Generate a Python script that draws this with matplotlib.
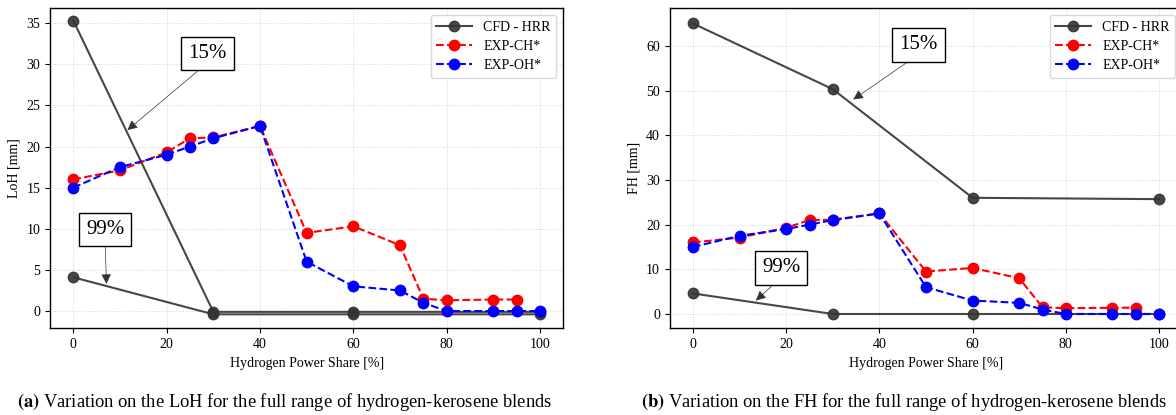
import matplotlib.pyplot as plt

plt.rcParams['font.family'] = ['Liberation Serif', 'DejaVu Serif']
plt.rcParams['mathtext.fontset'] = 'stix'

# CFD - HRR (two iso-levels of heat release rate)
cfd_x = [0, 30, 60, 100]
loh_15 = [35.3, -0.1, -0.1, -0.1]
loh_99 = [4.1, -0.4, -0.4, -0.4]
fh_15 = [65.0, 50.3, 26.0, 25.7]
fh_99 = [4.6, 0.0, 0.0, 0.0]

# experimental chemiluminescence (same data for LoH and FH)
ch_x = [0, 10, 20, 25, 30, 40, 50, 60, 70, 75, 80, 90, 95]
ch_y = [16.0, 17.1, 19.3, 21.0, 21.1, 22.5, 9.5, 10.3, 8.0, 1.5, 1.3, 1.4, 1.4]
oh_x = [0, 10, 20, 25, 30, 40, 50, 60, 70, 75, 80, 90, 95, 100]
oh_y = [15.0, 17.5, 19.0, 20.0, 21.0, 22.5, 6.0, 3.0, 2.5, 1.0, 0.0, 0.0, 0.0, 0.0]

W, H = 1176, 415
fig = plt.figure(figsize=(W / 100, H / 100), dpi=100)
ax1 = fig.add_axes([50 / W, (H - 328.3) / H, 513.3 / W, 320 / H])
ax2 = fig.add_axes([669.7 / W, (H - 328.3) / H, 512.6 / W, 320 / H])


def draw(ax, y15, y99, ylabel, notes):
    ax.plot(cfd_x, y15, '-o', color='0.2', lw=1.5, ms=7.5, alpha=0.9, label='CFD - HRR')
    ax.plot(cfd_x, y99, '-o', color='0.2', lw=1.5, ms=7.5, alpha=0.9)
    ax.plot(ch_x, ch_y, '--o', color='red', lw=1.5, ms=7.5, label='EXP-CH*')
    ax.plot(oh_x, oh_y, '--o', color='blue', lw=1.5, ms=7.5, label='EXP-OH*')
    ax.set_xlim(-5, 105)
    ax.grid(True, color='0.8', lw=0.6, ls=':')
    ax.set_xlabel('Hydrogen Power Share [%]', fontsize=10)
    ax.set_ylabel(ylabel, fontsize=10)
    ax.tick_params(labelsize=10)
    for txt, xy, xytext in notes:
        ax.annotate(txt, xy=xy, xytext=xytext, fontsize=15, ha='center', va='center',
                    bbox=dict(boxstyle='square,pad=0.35', fc='white', ec='black', lw=1),
                    arrowprops=dict(arrowstyle='-|>', color='0.2', lw=0.5,
                                    relpos=(0.5, 0), shrinkA=0, shrinkB=0))
    ax.legend(loc='upper right', fontsize=10, framealpha=1, edgecolor='0.85',
              handlelength=2.6, labelspacing=0.45)
    for s in ax.spines.values():
        s.set_linewidth(1.0)


draw(ax1, loh_15, loh_99, 'LoH [mm]',
     [('15%', (11.6, 22.0), (28.7, 31.3)), ('99%', (7.1, 3.3), (6.8, 9.9))])
ax1.set_ylim(-2.1, 36.8)

draw(ax2, fh_15, fh_99, 'FH [mm]',
     [('15%', (34.4, 48.0), (48.4, 60.2)), ('99%', (13.5, 3.0), (18.9, 10.3))])
ax2.set_ylim(-3.2, 68.4)

fig.text(285 / W, 1 - 402 / H, r'$\mathbf{(a)}$ Variation on the LoH for the full range of hydrogen-kerosene blends',
         ha='center', va='center', fontsize=13.3)
fig.text(904 / W, 1 - 402 / H, r'$\mathbf{(b)}$ Variation on the FH for the full range of hydrogen-kerosene blends',
         ha='center', va='center', fontsize=13.3)

fig.savefig('out.png', dpi=100)
